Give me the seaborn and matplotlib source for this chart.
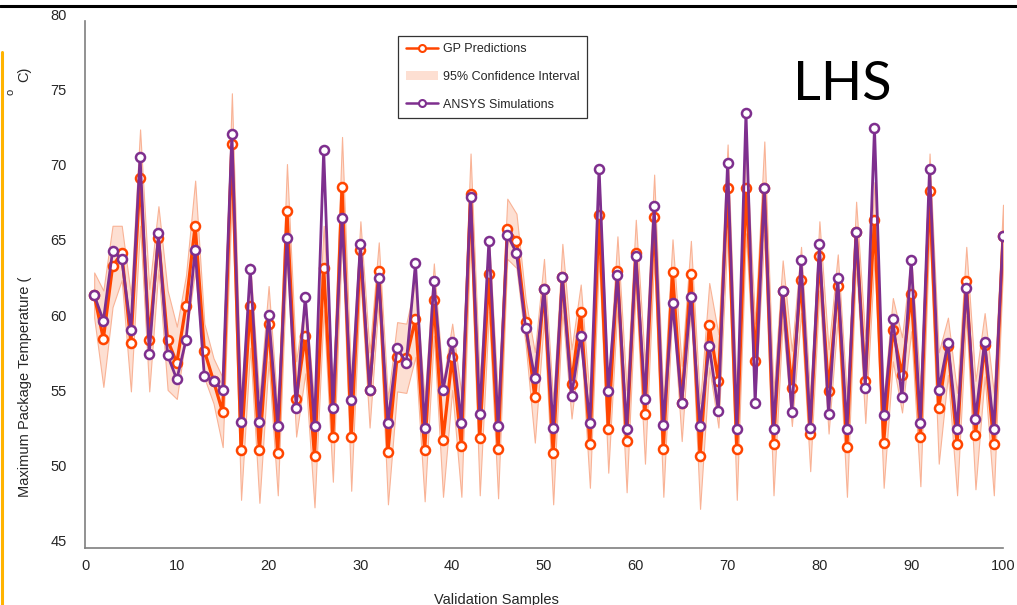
import numpy as np
import pandas as pd
import seaborn as sns
import matplotlib.pyplot as plt
import matplotlib.transforms as mtransforms
from matplotlib.lines import Line2D
from matplotlib.patches import Patch

samples = list(range(1, 101))

gp_pred = [61.8, 58.9, 63.7, 64.6, 58.6, 69.6, 58.8, 65.6, 58.8, 57.3,
           61.1, 66.4, 58.1, 56.1, 54.0, 71.8, 51.5, 61.1, 51.5, 59.9,
           51.3, 67.4, 54.9, 59.1, 51.1, 63.6, 52.4, 69.0, 52.4, 64.8,
           55.5, 63.4, 51.4, 57.7, 57.6, 60.2, 51.5, 61.5, 52.2, 57.7,
           51.8, 68.5, 52.3, 63.2, 51.6, 66.2, 65.4, 60.0, 55.0, 62.2,
           51.3, 63.0, 55.9, 60.7, 51.9, 67.1, 52.9, 63.4, 52.1, 64.6,
           53.9, 67.0, 51.6, 63.3, 54.6, 63.2, 51.1, 59.8, 56.1, 68.9,
           51.6, 68.9, 57.4, 68.9, 51.9, 62.1, 55.6, 62.8, 52.6, 64.4,
           55.4, 62.4, 51.7, 66.0, 56.1, 66.8, 52.0, 59.5, 56.5, 61.9,
           52.4, 68.7, 54.3, 58.4, 51.9, 62.7, 52.5, 58.5, 51.9, 65.7]

ansys_sim = [61.8, 60.1, 64.7, 64.2, 59.5, 71.0, 57.9, 65.9, 57.8, 56.2,
             58.8, 64.8, 56.4, 56.1, 55.5, 72.5, 53.4, 63.5, 53.4, 60.5,
             53.1, 65.6, 54.3, 61.7, 53.1, 71.4, 54.3, 66.9, 54.8, 65.2,
             55.5, 62.9, 53.3, 58.3, 57.3, 63.9, 53.0, 62.7, 55.5, 58.7,
             53.3, 68.3, 53.9, 65.4, 53.1, 65.8, 64.6, 59.6, 56.3, 62.2,
             53.0, 63.0, 55.1, 59.1, 53.3, 70.2, 55.4, 63.1, 52.9, 64.4,
             54.9, 67.7, 53.2, 61.3, 54.6, 61.7, 53.1, 58.4, 54.1, 70.6,
             52.9, 73.9, 54.6, 68.9, 52.9, 62.1, 54.0, 64.1, 53.0, 65.2,
             53.9, 62.9, 52.9, 66.0, 55.6, 72.9, 53.8, 60.2, 55.0, 64.1,
             53.3, 70.2, 55.5, 58.6, 52.9, 62.3, 53.6, 58.7, 52.9, 65.7]

ci_half = [1.5, 3.2, 2.7, 1.8, 3.2, 3.2, 3.4, 2.1, 3.3, 2.4,
           2.0, 3.0, 1.8, 1.5, 2.3, 3.4, 3.3, 2.8, 3.5, 2.5,
           2.8, 3.1, 2.5, 2.5, 3.4, 2.8, 3.0, 3.3, 3.6, 1.9,
           2.5, 1.9, 3.5, 2.3, 2.3, 2.5, 3.4, 2.4, 3.8, 2.2,
           3.4, 2.7, 3.8, 2.5, 3.3, 2.0, 1.8, 1.5, 3.0, 2.0,
           3.4, 2.2, 2.3, 1.8, 2.9, 2.8, 2.9, 2.3, 3.4, 2.2,
           3.3, 2.8, 3.2, 2.2, 2.5, 2.2, 3.5, 2.8, 3.1, 2.9,
           3.4, 3.0, 2.5, 3.1, 3.4, 2.0, 2.5, 2.2, 2.5, 2.3,
           2.8, 2.1, 3.3, 2.0, 2.8, 2.5, 3.0, 2.1, 2.5, 2.5,
           3.3, 2.5, 3.7, 1.9, 3.4, 2.3, 3.6, 2.1, 3.4, 2.1]

x_ticks = [0, 10, 20, 30, 40, 50, 60, 70, 80, 90, 100]
y_ticks = [45, 50, 55, 60, 65, 70, 75, 80]

orange = '#FF4500'
purple = '#7E2F8E'
band_face = '#FDDFD2'
band_edge = '#F9B396'
axis_gray = '#7F7F7F'

df = pd.DataFrame({'sample': samples, 'gp': gp_pred, 'ansys': ansys_sim, 'ci': ci_half})

sns.set_style('white')
plt.rcParams['font.family'] = ['Liberation Sans', 'DejaVu Sans']

fig = plt.figure(figsize=(10.17, 6.05), dpi=100)
ax = fig.add_axes([85 / 1017, 1 - 548 / 605, 918 / 1017, 527 / 605])

ax.fill_between(df['sample'], df['gp'] - df['ci'], df['gp'] + df['ci'],
                facecolor=band_face, edgecolor=band_edge, linewidth=0.8, zorder=1)
sns.lineplot(data=df, x='sample', y='gp', ax=ax, color=orange, linewidth=2.3,
             marker='o', markersize=6.5, markerfacecolor='white',
             markeredgecolor=orange, markeredgewidth=1.8, zorder=2)
sns.lineplot(data=df, x='sample', y='ansys', ax=ax, color=purple, linewidth=2.0,
             marker='o', markersize=6.5, markerfacecolor='white',
             markeredgecolor=purple, markeredgewidth=1.8, zorder=3)

ax.set_xlim(0, 100)
ax.set_ylim(45, 80)
ax.set_xticks(x_ticks)
ax.set_yticks(y_ticks)
for s in ['top', 'right']:
    ax.spines[s].set_visible(False)
for s in ['left', 'bottom']:
    ax.spines[s].set_color(axis_gray)
    ax.spines[s].set_linewidth(1.2)
ax.tick_params(direction='in', length=5, width=0.9, color='#333333',
               labelsize=10.5, labelcolor='#262626')
ax.tick_params(axis='x', pad=8)
ax.tick_params(axis='y', pad=13)

# matlab-style y labels sit a little above their ticks
offset = mtransforms.ScaledTranslation(0, 7 / 100, fig.dpi_scale_trans)
for lab in ax.get_yticklabels():
    lab.set_transform(lab.get_transform() + offset)

ax.set_xlabel('Validation Samples', fontsize=10.5, color='#262626')
ax.xaxis.set_label_coords(0.448, -0.085)
ax.set_ylabel('Maximum Package Temperature (', fontsize=10.5, color='#262626')
ax.yaxis.set_label_coords(-53 / 918, 0.305)
fig.text(24 / 1017, 1 - 74 / 605, 'C)', rotation=90, ha='center', va='center',
         fontsize=10.5, color='#262626')
fig.text(11 / 1017, 1 - 92 / 605, 'o', rotation=90, ha='center', va='center',
         fontsize=8, color='#262626')

handles = [
    Line2D([], [], color=orange, linewidth=1.8, marker='o', markersize=5,
           markerfacecolor='white', markeredgecolor=orange, markeredgewidth=1.5),
    Patch(facecolor=band_face, edgecolor='none'),
    Line2D([], [], color=purple, linewidth=1.8, marker='o', markersize=5,
           markerfacecolor='white', markeredgecolor=purple, markeredgewidth=1.5),
]
labels = ['GP Predictions', '95% Confidence Interval', 'ANSYS Simulations']
leg = ax.legend(handles, labels, loc='upper left',
                bbox_to_anchor=((398 - 85) / 918, (548 - 36) / 527),
                fontsize=9, frameon=True, fancybox=False, framealpha=1,
                edgecolor='#333333', handlelength=2.6, handletextpad=0.4,
                labelspacing=1.25, borderpad=0.6, borderaxespad=0)
leg.get_frame().set_linewidth(0.9)

fig.text(793 / 1017, 1 - 84 / 605, 'LHS', fontsize=39, family='Lato',
         ha='left', va='center', color='black')

# slide decorations around the figure
fig.add_artist(Line2D([0, 1], [1 - 6 / 605, 1 - 6 / 605], color='black', linewidth=2.2,
                      transform=fig.transFigure))
fig.add_artist(Line2D([1.5 / 1017, 1.5 / 1017], [0, 1 - 52 / 605], color='#FFB300',
                      linewidth=2.2, transform=fig.transFigure))

fig.savefig('out.png', dpi=100)
